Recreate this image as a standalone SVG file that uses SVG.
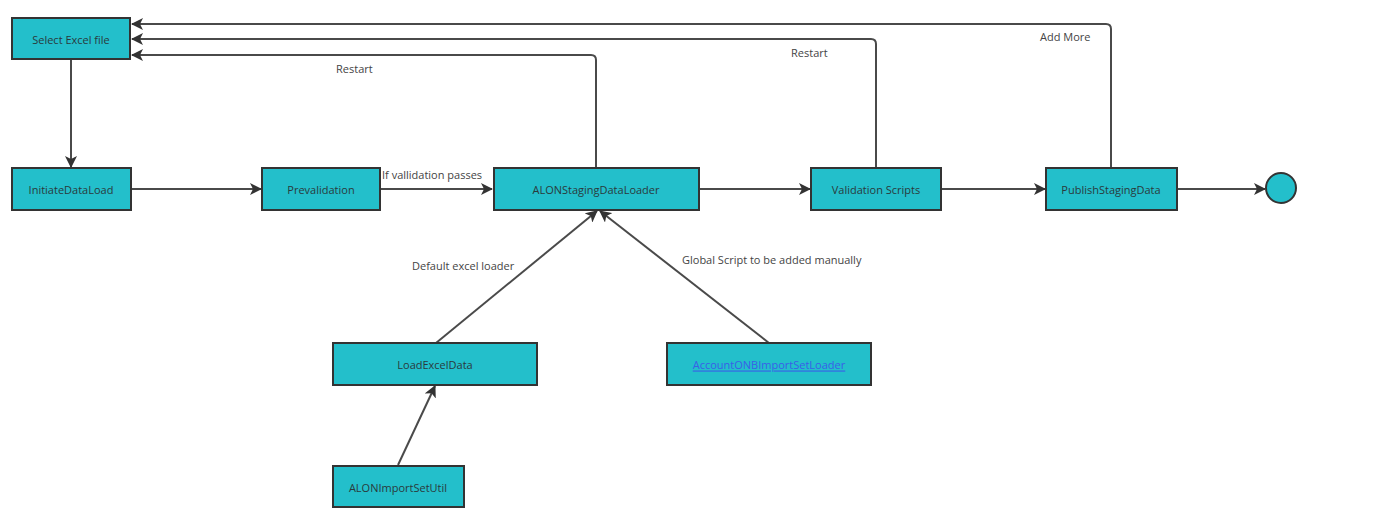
<svg xmlns="http://www.w3.org/2000/svg" width="1400" height="518" viewBox="0 0 1400 518">
<defs>
<style>
.node rect,.node circle{fill:#23bfcb;stroke:#333;stroke-width:2}
.node text{font-family:"Open Sans","Liberation Sans",sans-serif;font-size:11px;fill:#2a3a3c;text-anchor:middle;dominant-baseline:central}
.node text.link{fill:#3a5ee8;text-decoration:underline}
.edge{fill:none;stroke:#4a4a4a;stroke-width:2;marker-end:url(#arr)}
.lbl{font-family:"Open Sans","Liberation Sans",sans-serif;font-size:11px;fill:#444}
</style>
<marker id="arr" viewBox="0 0 12 12" refX="11" refY="6" markerWidth="12" markerHeight="12" markerUnits="userSpaceOnUse" orient="auto">
<path d="M0,0 L12,6 L0,12 L3,6 z" fill="#333"/>
</marker>
</defs>
<rect width="1400" height="518" fill="#fff"/>
<g id="connectors">
<path class="edge" d="M71,59 V167"/>
<path class="edge" d="M131,189 H261"/>
<path class="edge" d="M381,189 H492"/>
<path class="edge" d="M699,189 H810"/>
<path class="edge" d="M942,189 H1045"/>
<path class="edge" d="M1177,189 H1265"/>
<path class="edge" d="M596,168 V60 Q596,55 591,55 H132"/>
<path class="edge" d="M876,168 V44 Q876,39 871,39 H132"/>
<path class="edge" d="M1111,168 V29 Q1111,24 1106,24 H132"/>
<path class="edge" d="M436,343 L597,211"/>
<path class="edge" d="M769,343 L600,211"/>
<path class="edge" d="M398,465 L435,386"/>
<text class="lbl" x="336" y="73">Restart</text>
<text class="lbl" x="791" y="57">Restart</text>
<text class="lbl" x="1040" y="41">Add More</text>
<text class="lbl" x="382" y="179">If vallidation passes</text>
<text class="lbl" x="412" y="270">Default excel loader</text>
<text class="lbl" x="682" y="264">Global Script to be added manually</text>
</g>
<g id="select-excel" class="node"><rect x="12" y="18" width="118" height="41"/><text x="71" y="39">Select Excel file</text></g>
<g id="initiate" class="node"><rect x="12" y="168" width="119" height="42"/><text x="71" y="189">InitiateDataLoad</text></g>
<g id="prevalidation" class="node"><rect x="262" y="168" width="118" height="42"/><text x="321" y="189">Prevalidation</text></g>
<g id="staging-loader" class="node"><rect x="494" y="168" width="205" height="42"/><text x="596" y="189">ALONStagingDataLoader</text></g>
<g id="validation" class="node"><rect x="811" y="168" width="130" height="42"/><text x="876" y="189">Validation Scripts</text></g>
<g id="publish" class="node"><rect x="1046" y="168" width="131" height="42"/><text x="1111" y="189">PublishStagingData</text></g>
<g id="end" class="node"><circle cx="1281" cy="188" r="15"/></g>
<g id="load-excel" class="node"><rect x="333" y="343" width="204" height="42"/><text x="435" y="364">LoadExcelData</text></g>
<g id="account-loader" class="node"><rect x="667" y="343" width="204" height="42"/><text class="link" x="769" y="364">AccountONBImportSetLoader</text></g>
<g id="import-util" class="node"><rect x="333" y="466" width="131" height="41"/><text x="398" y="487">ALONImportSetUtil</text></g>
</svg>
